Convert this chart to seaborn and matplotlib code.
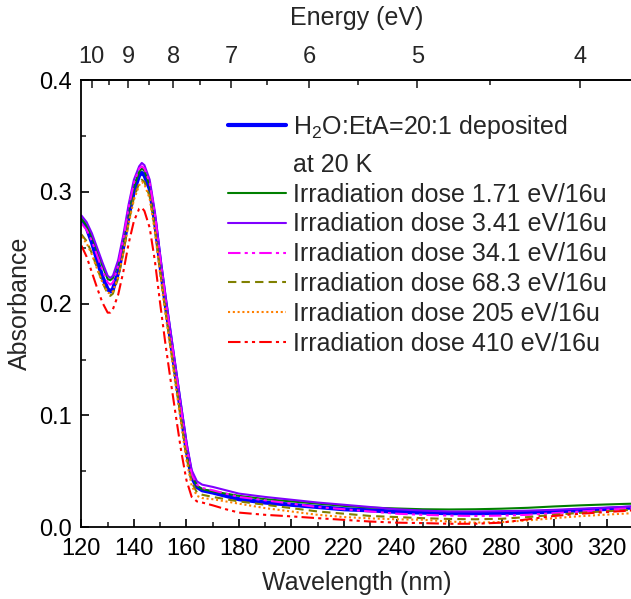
import numpy as np
import pandas as pd
import matplotlib
matplotlib.use("Agg")
import matplotlib.pyplot as plt
from matplotlib.ticker import MultipleLocator, FixedLocator
from matplotlib.lines import Line2D
import seaborn as sns

# ---------------- data ----------------
wavelength = [120, 122, 124, 126, 128, 130, 131, 132, 134, 136, 138, 140, 142, 143, 144,
              146, 148, 150, 152, 154, 156, 158, 160, 162, 164, 166, 170, 175, 180, 190,
              200, 210, 220, 230, 240, 250, 260, 270, 280, 290, 300, 310, 320, 330]

deposited = [.275, .268, .255, .239, .224, .213, .211, .213, .228, .252, .279, .301, .315, .317, .315,
             .303, .274, .236, .201, .168, .135, .102, .070, .045, .036, .033, .031, .028, .025, .022,
             .020, .018, .016, .015, .0137, .013, .0125, .0125, .0127, .013, .014, .015, .0163, .0176]
dose_1_71 = [.276, .270, .260, .247, .234, .222, .221, .223, .236, .258, .284, .305, .318, .321, .319,
             .306, .277, .239, .203, .170, .137, .104, .072, .047, .037, .034, .032, .030, .028, .025,
             .023, .021, .019, .0175, .0167, .016, .0158, .016, .0165, .0173, .0185, .0195, .0203, .021]
dose_3_41 = [.279, .273, .263, .250, .237, .225, .223, .225, .239, .262, .289, .311, .323, .326, .324,
             .311, .282, .243, .207, .174, .141, .108, .076, .051, .041, .038, .036, .033, .030, .027,
             .0245, .022, .020, .018, .016, .0148, .014, .014, .0143, .0148, .0155, .0165, .0175, .0185]
dose_34_1 = [.272, .266, .256, .243, .230, .219, .217, .219, .234, .258, .286, .308, .321, .323, .321,
             .308, .279, .240, .204, .171, .138, .104, .072, .047, .038, .035, .033, .030, .027, .024,
             .021, .018, .016, .014, .012, .011, .0103, .010, .0103, .011, .0125, .014, .0155, .017]
dose_68_3 = [.262, .256, .245, .232, .219, .209, .207, .209, .223, .246, .273, .295, .308, .311, .309,
             .296, .267, .229, .194, .161, .128, .095, .063, .040, .031, .029, .027, .025, .023, .020,
             .017, .014, .012, .010, .009, .008, .0073, .007, .0075, .009, .011, .0128, .0142, .0155]
dose_205 = [.260, .254, .244, .231, .219, .210, .209, .211, .224, .246, .272, .293, .306, .309, .307,
            .294, .264, .226, .191, .158, .125, .092, .060, .037, .028, .026, .025, .023, .021, .017,
            .014, .011, .009, .0078, .007, .0066, .005, .004, .0045, .006, .008, .0098, .0112, .0125]
dose_410 = [.252, .242, .228, .214, .201, .192, .192, .195, .208, .229, .254, .274, .285, .286, .283,
            .268, .238, .200, .164, .131, .099, .068, .042, .027, .023, .022, .0195, .016, .013, .011,
            .0096, .008, .0065, .005, .004, .0036, .003, .003, .004, .007, .010, .012, .0135, .015]

series_labels = ["H$_2$O:EtA=20:1 deposited",
                 "Irradiation dose 1.71 eV/16u",
                 "Irradiation dose 3.41 eV/16u",
                 "Irradiation dose 34.1 eV/16u",
                 "Irradiation dose 68.3 eV/16u",
                 "Irradiation dose 205 eV/16u",
                 "Irradiation dose 410 eV/16u"]
series_values = [deposited, dose_1_71, dose_3_41, dose_34_1, dose_68_3, dose_205, dose_410]

energy_ticks = [10, 9, 8, 7, 6, 5, 4]
energy_minor = [9.5, 8.5, 7.5, 6.5, 5.5, 4.5]

# ---------------- style ----------------
colors = ["#0000ff", "#008000", "#8000ff", "#ff00ff", "#808000", "#ff8000", "#ff0000"]
widths = [3.0, 1.5, 1.5, 1.5, 1.5, 1.5, 1.5]
dashdotdot = (0, (6, 2, 1.5, 2, 1.5, 2))
styles = ["-", "-", "-", dashdotdot, (0, (4, 2.5)), (0, (1, 1.3)), dashdotdot]

sns.set_theme(style="ticks")
plt.rcParams["font.family"] = ["Liberation Sans", "DejaVu Sans"]
plt.rcParams["mathtext.fontset"] = "custom"
plt.rcParams["mathtext.rm"] = "Liberation Sans"
plt.rcParams["mathtext.it"] = "Liberation Sans:italic"

fig = plt.figure(figsize=(6.31, 5.99), dpi=100)
ax = fig.add_axes([0.129, 0.120, 1.003 - 0.129, 0.866 - 0.120])

handles = []
for lab, vals, c, lw, ls in zip(series_labels, series_values, colors, widths, styles):
    df = pd.DataFrame({"wl": wavelength, "abs": vals})
    sns.lineplot(data=df, x="wl", y="abs", ax=ax, color=c, linewidth=lw,
                 linestyle=ls, legend=False, sort=False)
    handles.append(Line2D([], [], color=c, lw=lw, ls=ls))

ax.set_xlim(120, 330)
ax.set_ylim(0, 0.4)
ax.xaxis.set_major_locator(MultipleLocator(20))
ax.xaxis.set_minor_locator(MultipleLocator(10))
ax.yaxis.set_major_locator(MultipleLocator(0.1))
ax.yaxis.set_minor_locator(MultipleLocator(0.05))
ax.yaxis.set_major_formatter(matplotlib.ticker.FormatStrFormatter("%.1f"))

ax.tick_params(which="major", direction="in", length=6, width=1.2, labelsize=17, pad=8,
               colors="black")
ax.tick_params(axis="y", which="major", pad=7)
ax.tick_params(which="minor", direction="in", length=3.5, width=1.2)
for s in ["left", "bottom", "top", "right"]:
    ax.spines[s].set_linewidth(1.3)
    ax.spines[s].set_color("black")

ax.set_xlabel("Wavelength (nm)", fontsize=18, labelpad=8)
ax.set_ylabel("Absorbance", fontsize=18, labelpad=5)

conv = lambda x: 1239.84 / np.asarray(x, dtype=float)
sec = ax.secondary_xaxis("top", functions=(conv, conv))
sec.xaxis.set_major_locator(FixedLocator(energy_ticks))
sec.xaxis.set_minor_locator(FixedLocator(energy_minor))
sec.tick_params(which="major", direction="in", length=6, width=1.2, labelsize=17, pad=9)
sec.tick_params(which="minor", direction="in", length=3.5, width=1.2)
sec.set_xticklabels([str(t) for t in energy_ticks])
sec.set_xlabel("Energy (eV)", fontsize=18, labelpad=15)
sec.spines["top"].set_linewidth(1.3)

# legend: first entry (two lines of text), then the remaining entries
leg_kw = dict(frameon=False, fontsize=18, handlelength=2.3, handletextpad=0.28,
              borderpad=0, borderaxespad=0)
leg1 = ax.legend([handles[0]], [series_labels[0]], loc="center left",
                 bbox_to_anchor=(0.266, 0.896), **leg_kw)
ax.add_artist(leg1)
blank = Line2D([], [], color="none")
ax.legend([blank] + handles[1:], ["at 20 K"] + series_labels[1:], loc="upper left",
          bbox_to_anchor=(0.266, 0.838), labelspacing=0.235, **leg_kw)

fig.savefig("out.png", dpi=100)
